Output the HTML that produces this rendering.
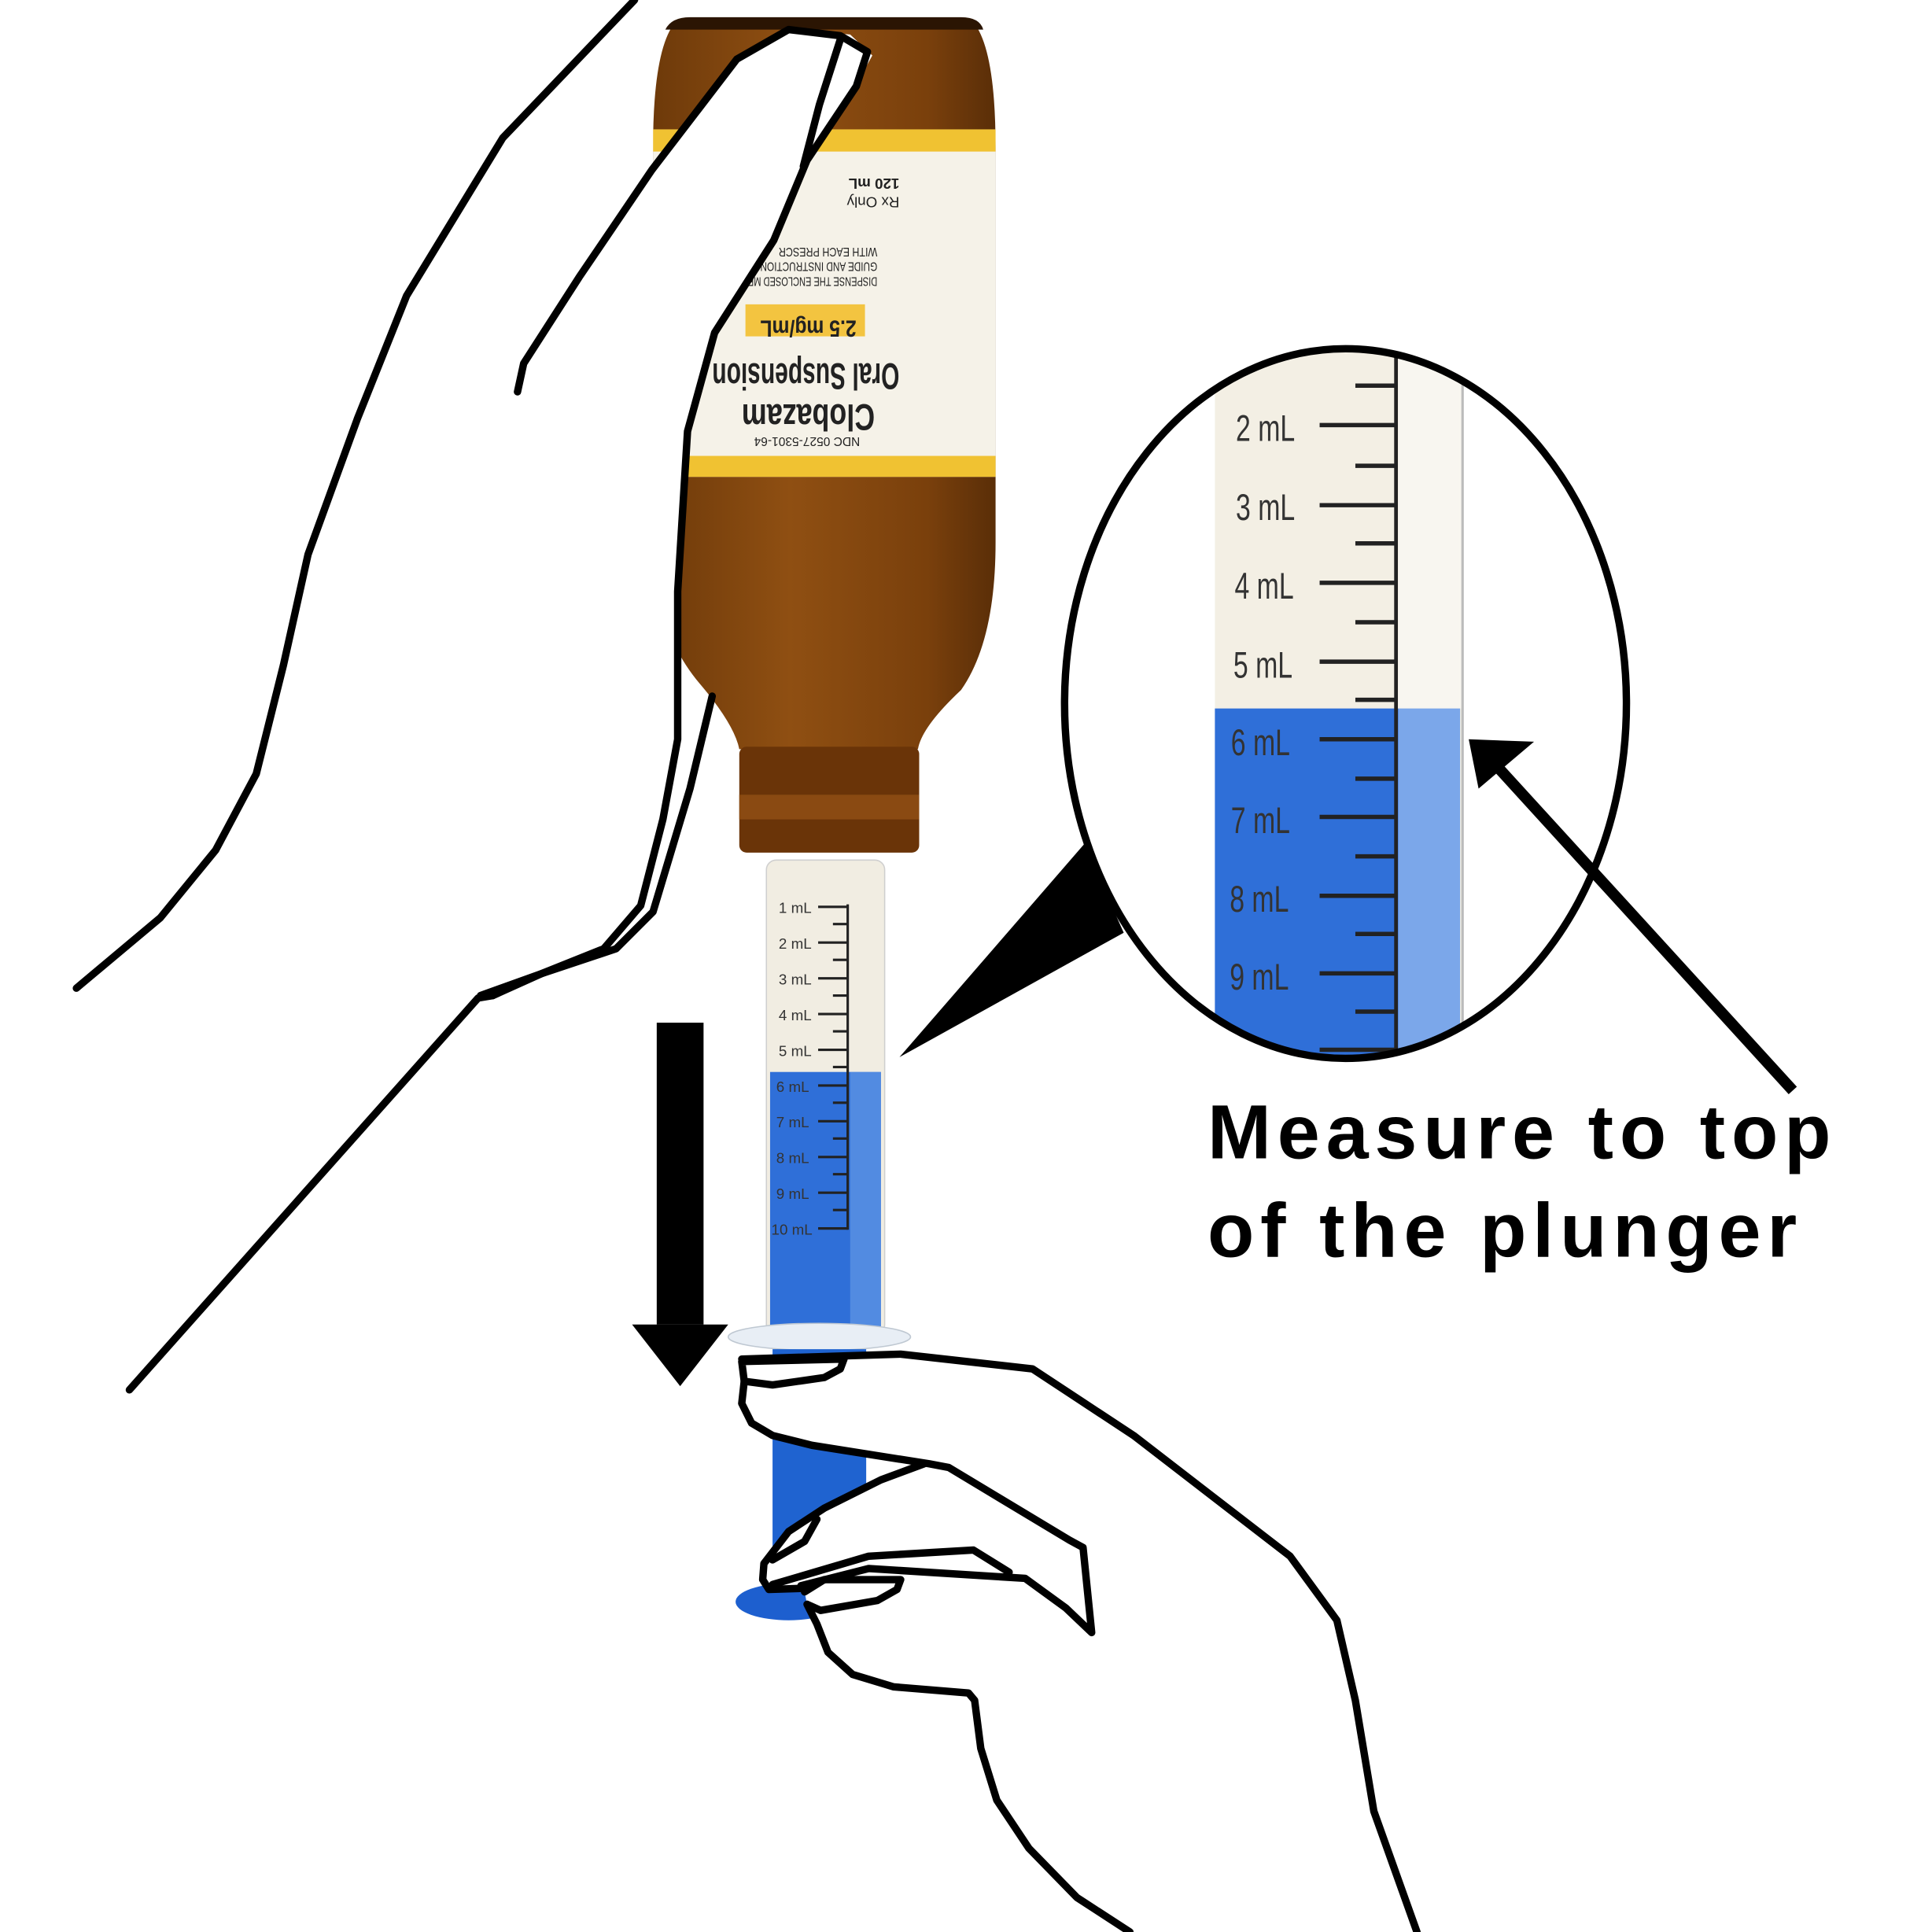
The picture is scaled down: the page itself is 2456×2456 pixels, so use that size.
<!DOCTYPE html>
<html><head><meta charset="utf-8"><style>html,body{margin:0;padding:0;background:#fff}svg{display:block}</style></head><body>
<svg width="2456" height="2456" viewBox="0 0 1568 1568" xmlns="http://www.w3.org/2000/svg" font-family="Liberation Sans, sans-serif">
<defs>
<linearGradient id="brown" x1="0" x2="1"><stop offset="0" stop-color="#6e3a0a"/><stop offset="0.4" stop-color="#8f4f12"/><stop offset="0.8" stop-color="#7a400c"/><stop offset="1" stop-color="#5a2e08"/></linearGradient>
<clipPath id="ell"><ellipse cx="1092" cy="571" rx="228" ry="288"/></clipPath>
</defs>
<!-- bottle -->
<path d="M548 18 L790 18 Q808 40 808 120 L808 440 Q808 520 780 560 Q748 590 745 608 L600 608 Q596 588 568 555 Q530 510 530 440 L530 120 Q530 40 548 18 Z" fill="url(#brown)"/>
<path d="M540 24 Q545 14 560 14 L780 14 Q795 14 798 24 Z" fill="#2b1503"/>
<rect x="530" y="105" width="278" height="282" fill="#f5f2e8"/>
<rect x="530" y="105" width="278" height="18" fill="#f0c232"/>
<rect x="530" y="370" width="278" height="17" fill="#f0c232"/>
<rect x="605" y="247" width="97" height="26" fill="#f3c440"/>
<g transform="rotate(180 655 280)" font-weight="bold" fill="#222">
<text x="615" y="300" font-size="19" textLength="78" lengthAdjust="spacingAndGlyphs">2.5 mg/mL</text>
<text x="580" y="265" font-size="30" textLength="152" lengthAdjust="spacingAndGlyphs">Oral Suspension</text>
<text x="600" y="232" font-size="30" textLength="108" lengthAdjust="spacingAndGlyphs">Clobazam</text>
<text x="612" y="205" font-size="10" font-weight="normal" textLength="86" lengthAdjust="spacingAndGlyphs">NDC 0527-5301-64</text>
<text x="598" y="335" font-size="10" font-weight="normal" textLength="110" lengthAdjust="spacingAndGlyphs">DISPENSE THE ENCLOSED MED</text>
<text x="598" y="347" font-size="10" font-weight="normal" textLength="100" lengthAdjust="spacingAndGlyphs">GUIDE AND INSTRUCTIONS</text>
<text x="598" y="359" font-size="10" font-weight="normal" textLength="80" lengthAdjust="spacingAndGlyphs">WITH EACH PRESCR</text>
<text x="580" y="400" font-size="12" font-weight="normal">Rx Only</text>
<text x="580" y="415" font-size="12">120 mL</text>
</g>
<rect x="600" y="606" width="146" height="86" rx="6" fill="#6a3408"/>
<rect x="600" y="645" width="146" height="20" fill="#8a4a12"/>
<!-- syringe barrel -->
<rect x="622" y="698" width="96" height="385" rx="8" fill="#f1ede2" stroke="#cfcfcf"/>
<rect x="625" y="870" width="90" height="210" fill="#2f6fd8"/>
<rect x="690" y="870" width="25" height="210" fill="#6a9fe8" opacity="0.6"/>
<ellipse cx="665" cy="1085" rx="74" ry="11" fill="#e8eef5" stroke="#bfc8d2"/>
<g stroke="#222" stroke-width="2">
<line x1="688" y1="734" x2="688" y2="998"/>
<path d="M664 736H688M664 765H688M664 794H688M664 823H688M664 852H688M664 881H688M664 910H688M664 939H688M664 968H688M664 997H688M676 750H688M676 779H688M676 808H688M676 837H688M676 866H688M676 895H688M676 924H688M676 953H688M676 982H688"/>
</g>
<g font-size="12" fill="#333">
<text x="632" y="741">1 mL</text><text x="632" y="770">2 mL</text><text x="632" y="799">3 mL</text><text x="632" y="828">4 mL</text><text x="632" y="857">5 mL</text>
<text x="630" y="886">6 mL</text><text x="630" y="915">7 mL</text><text x="630" y="944">8 mL</text><text x="630" y="973">9 mL</text><text x="626" y="1002">10 mL</text>
</g>
<!-- plunger -->
<rect x="627" y="1095" width="76" height="205" fill="#1f63d0"/>
<ellipse cx="640" cy="1300" rx="43" ry="15" fill="#1d5fcf"/>
<!-- left hand white cover -->
<path d="M0 0 L530 0 L530 137 L598 48 L640 24 L690 28 L708 45 L680 95 L655 130 L628 195 L580 270 L558 350 L550 480 L548 600 L530 680 L508 750 L460 780 L390 808 L0 808 Z" fill="#fff"/>
<g fill="none" stroke="#000" stroke-width="6" stroke-linejoin="round" stroke-linecap="round">
<path d="M62 802 L130 745 L175 690 L208 628 L230 540 L250 450 L290 340 L330 240 L408 112 L515 0"/>
<path d="M420 318 L425 295 L470 225 L529 138 L598 48 L640 24 L682 29 L704 42 L695 70 L655 130 L628 195 L580 270 L558 350 L550 480 L550 600 L538 665 L520 735 L490 770 L440 790 L390 808"/>
<path d="M682 32 L665 85 L652 135"/>
<path d="M105 1128 L388 810 L400 808"/>
<path d="M578 565 L560 640 L530 740 L500 770 L440 790 L400 808"/>
</g>
<!-- right hand -->
<path d="M602 1103 L731 1099 L838 1111 L920 1165 L1047 1263 L1085 1315 L1100 1380 L1115 1470 L1150 1568 L917 1568 L874 1540 L835 1500 L809 1461 L796 1419 L791 1380 L786 1374 L725 1369 L692 1359 L672 1341 L663 1318 L655 1302 L653 1292 L624 1290 L619 1282 L620 1269 L640 1243 L669 1224 L715 1201 L750 1188 L659 1173 L627 1165 L610 1155 L602 1139 Z" fill="#fff"/>
<g fill="none" stroke="#000" stroke-width="6" stroke-linejoin="round" stroke-linecap="round">
<path d="M602 1103 L731 1099 L838 1111 L920 1165 L1047 1263 L1085 1315 L1100 1380 L1115 1470 L1150 1568"/>
<path d="M602 1105 L685 1103 L682 1111 L669 1118 L627 1124 L604 1121 Z"/>
<path d="M604 1121 L602 1139 L610 1155 L627 1165 L659 1173 L754 1188 L770 1191 L868 1250 L879 1256 L886 1325 L865 1305 L832 1281 L705 1273 L650 1287"/>
<path d="M750 1188 L715 1201 L669 1224 L640 1243 L620 1269 L619 1282 L624 1290 L654 1289"/>
<path d="M663 1233 L653 1251 L627 1266"/>
<path d="M627 1286 L705 1263 L790 1258 L819 1276"/>
<path d="M653 1292 L669 1282 L731 1282 L728 1290 L712 1299 L666 1307 L655 1302 L663 1318 L672 1341 L692 1359 L725 1369 L786 1374 L791 1380 L796 1419 L809 1461 L835 1500 L874 1540 L917 1568"/>
</g>
<!-- down arrow -->
<rect x="533" y="830" width="38" height="245" fill="#000"/>
<path d="M513 1075 L591 1075 L552 1125 Z" fill="#000"/>
<!-- callout -->
<path d="M730 858 L880 685 L912 757 Z" fill="#000"/>
<g clip-path="url(#ell)">
<rect x="860" y="280" width="470" height="590" fill="#fff"/>
<rect x="986" y="280" width="201" height="590" fill="#f3efe4"/>
<rect x="1135" y="280" width="52" height="295" fill="#f8f6f0"/>
<line x1="1187" y1="280" x2="1187" y2="870" stroke="#bbb" stroke-width="2"/>
<rect x="986" y="575" width="149" height="295" fill="#2f6fd8"/>
<rect x="1135" y="575" width="50" height="295" fill="#7ba7ea"/>
<line x1="1133" y1="280" x2="1133" y2="870" stroke="#222" stroke-width="3"/>
<g stroke="#222" stroke-width="3.5">
<path d="M1071 345H1133M1071 410H1133M1071 473H1133M1071 537H1133M1071 600H1133M1071 663H1133M1071 727H1133M1071 790H1133M1071 852H1133"/>
<path d="M1100 313H1133M1100 378H1133M1100 441H1133M1100 505H1133M1100 568H1133M1100 632H1133M1100 695H1133M1100 758H1133M1100 821H1133"/>
</g>
<g font-size="30" fill="#333">
<text x="1003" y="358" textLength="48" lengthAdjust="spacingAndGlyphs">2 mL</text><text x="1003" y="422" textLength="48" lengthAdjust="spacingAndGlyphs">3 mL</text><text x="1002" y="486" textLength="48" lengthAdjust="spacingAndGlyphs">4 mL</text><text x="1001" y="550" textLength="48" lengthAdjust="spacingAndGlyphs">5 mL</text>
<text x="999" y="613" textLength="48" lengthAdjust="spacingAndGlyphs">6 mL</text><text x="999" y="676" textLength="48" lengthAdjust="spacingAndGlyphs">7 mL</text><text x="998" y="740" textLength="48" lengthAdjust="spacingAndGlyphs">8 mL</text><text x="998" y="803" textLength="48" lengthAdjust="spacingAndGlyphs">9 mL</text>
</g>
</g>
<ellipse cx="1092" cy="571" rx="228" ry="288" fill="none" stroke="#000" stroke-width="6"/>
<!-- pointer arrow -->
<line x1="1455" y1="885" x2="1215" y2="622" stroke="#000" stroke-width="9"/>
<path d="M1192 600 L1245 602 L1200 640 Z" fill="#000"/>
<g font-size="62" font-weight="bold" fill="#000" letter-spacing="5">
<text x="980" y="940">Measure to top</text>
<text x="980" y="1020">of the plunger</text>
</g>
</svg>
</body></html>
